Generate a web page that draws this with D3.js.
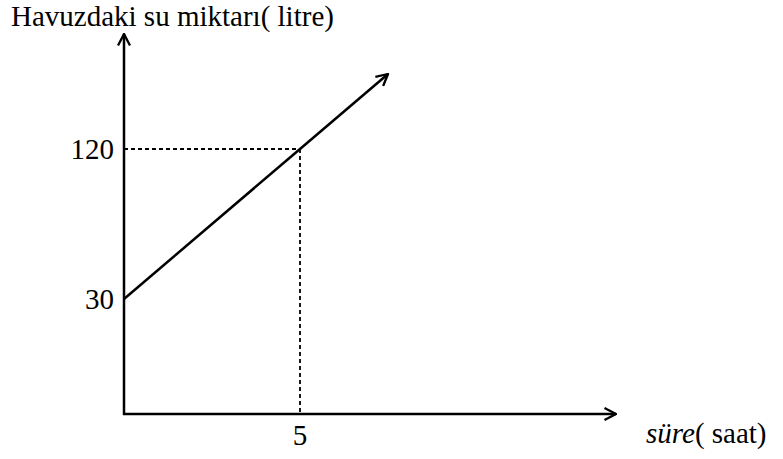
<!DOCTYPE html>
<html>
<head>
<meta charset="utf-8">
<script src="https://cdn.jsdelivr.net/npm/d3@7"></script>
<style>
    body { margin: 0; background: #fff; }
    text { font-family: "Liberation Serif", "Times New Roman", serif; fill: #000; }
</style>
</head>
<body>
<div id="chart"></div>
<script>
// values
const timeTicks = [5];              // süre (saat)
const waterTicks = [30, 120];       // litre
const lineTime = [0, 5, 7.5];       // line runs past the marked point, ends in an arrow
const lineWater = [30, 120, 165];
const markedPoint = { t: 5, v: 120 };

const width = 783, height = 459;
const origin = { x: 124, y: 414 };

const svg = d3.select("#chart")
    .append("svg")
    .attr("width", width)
    .attr("height", height);

const x = d3.scaleLinear().domain([0, 5]).range([origin.x, 300]);
const y = d3.scaleLinear().domain([30, 120]).range([299, 149]);

// arrow head (open chevron)
svg.append("defs").append("marker")
    .attr("id", "arrow")
    .attr("viewBox", "0 0 14 14")
    .attr("refX", 13)
    .attr("refY", 7)
    .attr("markerWidth", 14)
    .attr("markerHeight", 14)
    .attr("markerUnits", "userSpaceOnUse")
    .attr("orient", "auto")
    .append("path")
    .attr("d", "M1.5,1 L13,7 L1.5,13")
    .attr("fill", "none")
    .attr("stroke", "#000")
    .attr("stroke-width", 2.3);

// axes
svg.append("line")
    .attr("x1", origin.x).attr("y1", origin.y + 1)
    .attr("x2", origin.x).attr("y2", 34)
    .attr("stroke", "#000").attr("stroke-width", 2.5)
    .attr("marker-end", "url(#arrow)");

svg.append("line")
    .attr("x1", origin.x - 1).attr("y1", origin.y)
    .attr("x2", 616).attr("y2", origin.y)
    .attr("stroke", "#000").attr("stroke-width", 2.5)
    .attr("marker-end", "url(#arrow)");

// dashed guide lines
svg.append("line")
    .attr("x1", origin.x).attr("y1", y(markedPoint.v))
    .attr("x2", x(markedPoint.t)).attr("y2", y(markedPoint.v))
    .attr("stroke", "#000").attr("stroke-width", 1.8)
    .attr("stroke-dasharray", "4,3");

svg.append("line")
    .attr("x1", x(markedPoint.t)).attr("y1", y(markedPoint.v))
    .attr("x2", x(markedPoint.t)).attr("y2", origin.y)
    .attr("stroke", "#000").attr("stroke-width", 1.8)
    .attr("stroke-dasharray", "4,3");

// the line
const pts = lineTime.map((t, i) => [x(t), y(lineWater[i])]);
svg.append("path")
    .attr("d", d3.line()(pts))
    .attr("fill", "none")
    .attr("stroke", "#000")
    .attr("stroke-width", 2.5)
    .attr("marker-end", "url(#arrow)");

// tick labels
svg.selectAll(".ylab")
    .data(waterTicks)
    .join("text")
    .attr("class", "ylab")
    .attr("x", 114)
    .attr("y", d => y(d) + 10)
    .attr("text-anchor", "end")
    .style("font-size", "29px")
    .text(d => d);

svg.selectAll(".xlab")
    .data(timeTicks)
    .join("text")
    .attr("class", "xlab")
    .attr("x", d => x(d))
    .attr("y", 445)
    .attr("text-anchor", "middle")
    .style("font-size", "29px")
    .text(d => d);

// axis titles
svg.append("text")
    .attr("x", 11)
    .attr("y", 26)
    .style("font-size", "29px")
    .text("Havuzdaki su miktarı( litre)");

const xt = svg.append("text")
    .attr("x", 646)
    .attr("y", 443)
    .style("font-size", "29px");
xt.append("tspan").style("font-style", "italic").text("süre");
xt.append("tspan").text("( saat)");
</script>
</body>
</html>
